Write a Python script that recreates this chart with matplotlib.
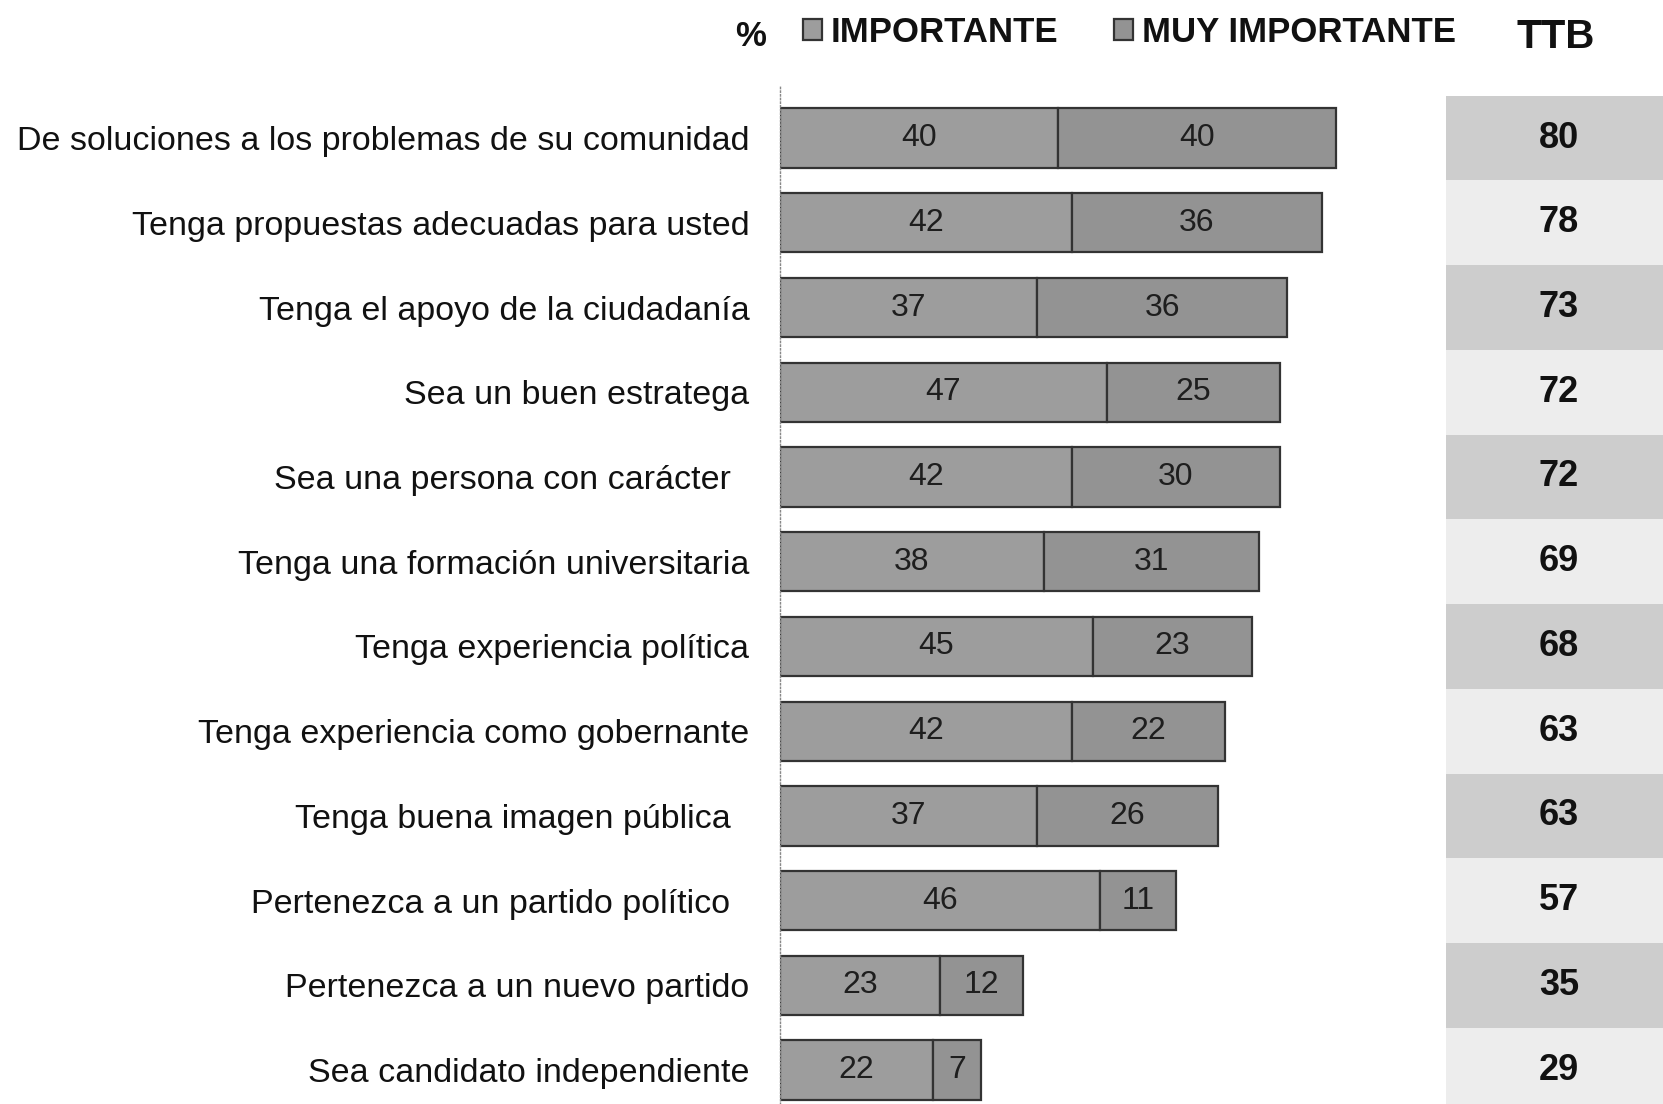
import matplotlib
matplotlib.use("Agg")
import matplotlib.pyplot as plt

plt.rcParams['font.family'] = ['Liberation Sans', 'DejaVu Sans']

categories = [
    "De soluciones a los problemas de su comunidad",
    "Tenga propuestas adecuadas para usted",
    "Tenga el apoyo de la ciudadanía",
    "Sea un buen estratega",
    "Sea una persona con carácter  ",
    "Tenga una formación universitaria",
    "Tenga experiencia política",
    "Tenga experiencia como gobernante",
    "Tenga buena imagen pública  ",
    "Pertenezca a un partido político  ",
    "Pertenezca a un nuevo partido",
    "Sea candidato independiente",
]
importante = [40, 42, 37, 47, 42, 38, 45, 42, 37, 46, 23, 22]
muy_importante = [40, 36, 36, 25, 30, 31, 23, 22, 26, 11, 12, 7]
ttb = [80, 78, 73, 72, 72, 69, 68, 63, 63, 57, 35, 29]
series_names = ["IMPORTANTE", "MUY IMPORTANTE"]

W, H = 1663, 1104
fig = plt.figure(figsize=(W / 100, H / 100), dpi=100)

# main bar axes
ax_left, ax_right = 780 / W, 1440 / W
ax = fig.add_axes([ax_left, 0, ax_right - ax_left, (H - 85) / H])
y = list(range(len(categories)))
b1 = ax.barh(y, importante, height=0.7, color='#9d9d9d', edgecolor='#333333',
             linewidth=1.6, label=series_names[0])
b2 = ax.barh(y, muy_importante, left=importante, height=0.7, color='#939393',
             edgecolor='#333333', linewidth=1.6, label=series_names[1])
ax.bar_label(b1, label_type='center', fontsize=23, color='#1e1e1e')
ax.bar_label(b2, label_type='center', fontsize=23, color='#1e1e1e')
ax.set_xlim(0, 95)
ax.set_ylim(11.4, -0.626)
ax.set_yticks(y)
ax.set_yticklabels(categories, fontsize=24.5, color='#111111')
ax.tick_params(axis='y', length=0, pad=22)
ax.set_xticks([])
for s in ['top', 'right', 'bottom']:
    ax.spines[s].set_visible(False)
ax.spines['left'].set_linestyle(':')
ax.spines['left'].set_color('#888888')
ax.spines['left'].set_linewidth(1)

# TTB column
tx = fig.add_axes([1446 / W, 0, (W - 1446) / W, (H - 85) / H])
tx.set_xlim(0, 1)
tx.set_ylim(11.4, -0.626)
for i, v in enumerate(ttb):
    tx.axhspan(i - 0.5, i + 0.5, color='#cdcdcd' if i % 2 == 0 else '#ededed', lw=0)
    tx.text(0.52, i, str(v), ha='center', va='center', fontsize=26,
            fontweight='bold', color='#111111')
tx.axis('off')

# header
fig.text(751 / W, 1 - 37 / H, "%", ha='center', va='center', fontsize=25,
         fontweight='bold', color='#111111')
fig.text(1556 / W, 1 - 37 / H, "TTB", ha='center', va='center', fontsize=29,
         fontweight='bold', color='#111111')
leg = fig.legend(handles=[b1, b2], labels=series_names, loc='center left',
                 bbox_to_anchor=(772 / W, 1 - 32 / H), ncol=2, frameon=False,
                 prop={'size': 25, 'weight': 'bold'}, handlelength=0.55,
                 handleheight=0.55, handletextpad=0.25, columnspacing=1.6)
for t in leg.get_texts():
    t.set_color('#111111')

fig.savefig("out.png", dpi=100)
